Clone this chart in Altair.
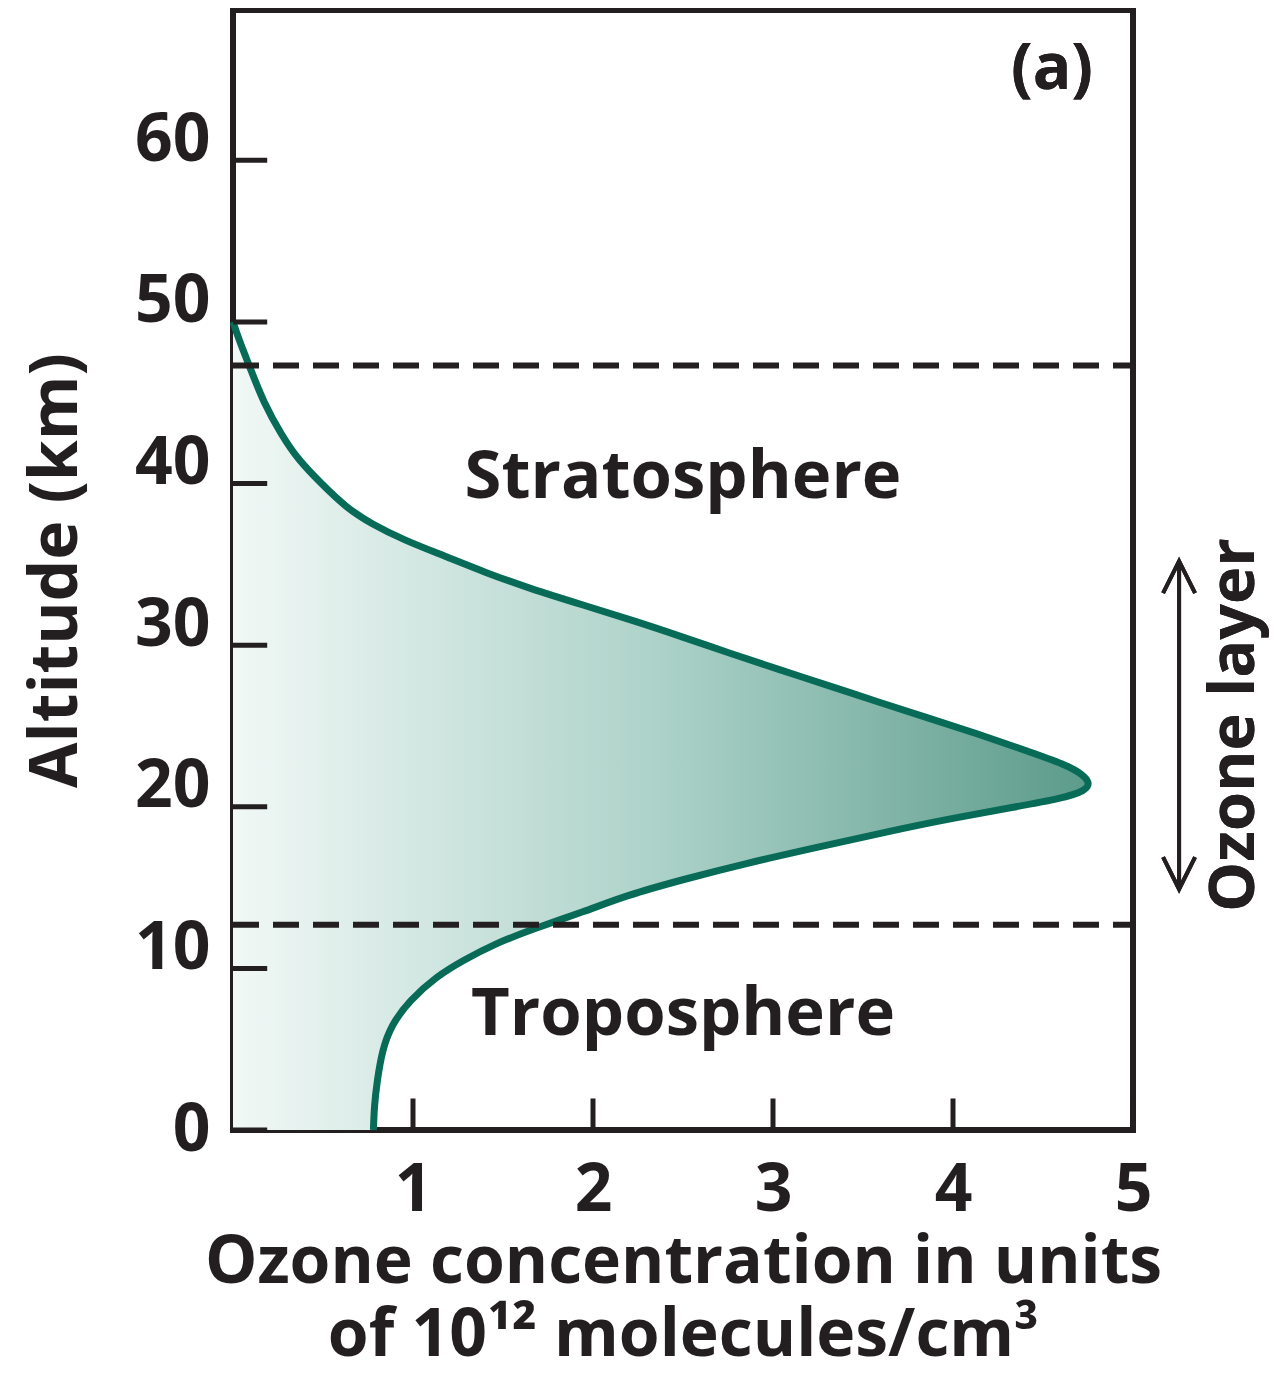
import altair as alt
import pandas as pd

# ---- data ----
altitude_km = [0, 1.5, 3, 5, 6.5, 8, 9.5, 10.5, 11.5, 12.5,
               13.5, 14.5, 15.5, 16.5, 17.5, 18.5, 19.3, 20, 20.5, 21,
               21.5, 22, 22.6, 23.5, 24.5, 25.5, 26.5, 27.5, 28.5, 29.5,
               30.5, 31.5, 32.5, 33.5, 34.5, 35.5, 36.5, 37.5, 38.5, 40,
               41.5, 43, 45, 47.3, 49, 50]
ozone_conc = [0.78, 0.785, 0.80, 0.83, 0.88, 0.98, 1.13, 1.28, 1.45, 1.68,
              1.95, 2.18, 2.5, 2.85, 3.25, 3.65, 4.0, 4.35, 4.60, 4.74,
              4.76, 4.72, 4.63, 4.40, 4.14, 3.86, 3.58, 3.31, 3.03, 2.76,
              2.50, 2.23, 1.94, 1.65, 1.40, 1.18, 0.95, 0.77, 0.63, 0.49,
              0.36, 0.27, 0.17, 0.09, 0.03, 0.0]
y_tick_values = [0, 10, 20, 30, 40, 50, 60]
x_tick_values = [1, 2, 3, 4, 5]
boundary_altitudes = [47.3, 12.7]
region_labels = ["Stratosphere", "Troposphere"]
region_label_alts = [39.1, 5.88]
x_title = ["Ozone concentration in units", "of 10\u00b9\u00b2 molecules/cm\u00b3"]
y_title = "Altitude (km)"

FONT = "Open Sans"
INK = "#231f20"
TEAL = "#076b58"

profile = pd.DataFrame({"alt": altitude_km, "conc": ozone_conc})
ytick_df = pd.DataFrame({"v": y_tick_values})
xtick_df = pd.DataFrame({"v": x_tick_values})
bound_df = pd.DataFrame({"alt": boundary_altitudes})
region_df = pd.DataFrame({"label": region_labels, "alt": region_label_alts})

xs = alt.Scale(domain=[0, 5], nice=False, zero=False)
ys = alt.Scale(domain=[0, 69.3], nice=False, zero=False)

x_axis = alt.Axis(values=x_tick_values, ticks=False, domain=False, grid=False,
                  format="d", labelFont=FONT, labelFontWeight="bold",
                  labelFontSize=66, labelColor=INK, labelPadding=28,
                  labelFlush=False, labelOverlap=False, labelBaseline="top",
                  titleFont=FONT, titleFontWeight="bold", titleFontSize=66,
                  titleColor=INK, titleY=152, titleBaseline="alphabetic",
                  titleLineHeight=73)
y_axis = alt.Axis(values=y_tick_values, ticks=False, domain=False, grid=False,
                  format="d", labelFont=FONT, labelFontWeight="bold",
                  labelFontSize=66, labelColor=INK, labelPadding=23,
                  labelFlush=False, labelOverlap=False,
                  labelBaseline={"condition": {"test": "datum.value == 0", "value": "middle"},
                                 "value": "alphabetic"},
                  titleFont=FONT, titleFontWeight="bold", titleFontSize=66,
                  titleColor=INK, titleX=-157, titleAngle=270,
                  titleBaseline="alphabetic", titleAlign="center")

area = alt.Chart(profile).mark_area(
    orient="horizontal", interpolate="basis",
    color=alt.Gradient(gradient="linear",
                       stops=[alt.GradientStop(color="#f1f8f6", offset=0),
                              alt.GradientStop(color="#acd2c8", offset=0.5),
                              alt.GradientStop(color="#5c9b8b", offset=1)],
                       x1=0, x2=1, y1=0, y2=0),
).encode(
    x=alt.X("conc:Q", scale=xs, axis=x_axis, title=x_title),
    y=alt.Y("alt:Q", scale=ys, axis=y_axis, title=y_title),
)

curve = alt.Chart(profile).mark_line(
    interpolate="basis", color=TEAL, strokeWidth=7
).encode(x="conc:Q", y="alt:Q", order="alt:Q")

bounds = alt.Chart(bound_df).mark_rule(
    color=INK, strokeWidth=6, strokeDash=[26, 14]
).encode(y="alt:Q", x=alt.datum(0), x2=alt.datum(5))

yticks = alt.Chart(ytick_df).mark_rule(color=INK, strokeWidth=5).encode(
    y="v:Q", x=alt.datum(0), x2=alt.datum(0.19))
xticks = alt.Chart(xtick_df).mark_rule(color=INK, strokeWidth=5).encode(
    x="v:Q", y=alt.datum(0), y2=alt.datum(1.95))

regions = alt.Chart(region_df).mark_text(
    font=FONT, fontWeight="bold", fontSize=67, color=INK,
    align="center", baseline="alphabetic"
).encode(x=alt.datum(2.5), y="alt:Q", text="label:N")

panel = alt.Chart(region_df).mark_text(
    font=FONT, fontWeight="bold", fontSize=64, color=INK,
    align="center", baseline="alphabetic"
).encode(x=alt.datum(4.55), y=alt.datum(64.4), text=alt.value("(a)"))

layer_label = alt.Chart(region_df).mark_text(
    font=FONT, fontWeight="bold", fontSize=63, color=INK,
    align="center", baseline="alphabetic", angle=270
).encode(x=alt.datum(5.67), y=alt.datum(25.06), text=alt.value("Ozone layer"))

shaft = alt.Chart(region_df).mark_rule(color=INK, strokeWidth=4).encode(
    x=alt.datum(5.256), y=alt.datum(35.2), y2=alt.datum(14.9))
head_up = alt.Chart(region_df).mark_point(
    shape="M-0.5,1L0,0L0.5,1", size=4096, filled=False, stroke=INK,
    strokeWidth=4, opacity=1
).encode(x=alt.datum(5.256), y=alt.datum(35.2))
head_down = alt.Chart(region_df).mark_point(
    shape="M-0.5,-1L0,0L0.5,-1", size=4096, filled=False, stroke=INK,
    strokeWidth=4, opacity=1
).encode(x=alt.datum(5.256), y=alt.datum(14.9))

chart = alt.layer(
    area, curve, bounds, yticks, xticks, regions, panel, layer_label,
    shaft, head_up, head_down
).properties(
    width=900, height=1120,
    background="white",
    autosize=alt.AutoSizeParams(type="none"),
    padding={"left": 225, "top": 2, "right": 137, "bottom": 238},
).configure_view(
    stroke=INK, strokeWidth=6
)

chart.save("out.html", embed_options={"renderer": "svg", "actions": False})
